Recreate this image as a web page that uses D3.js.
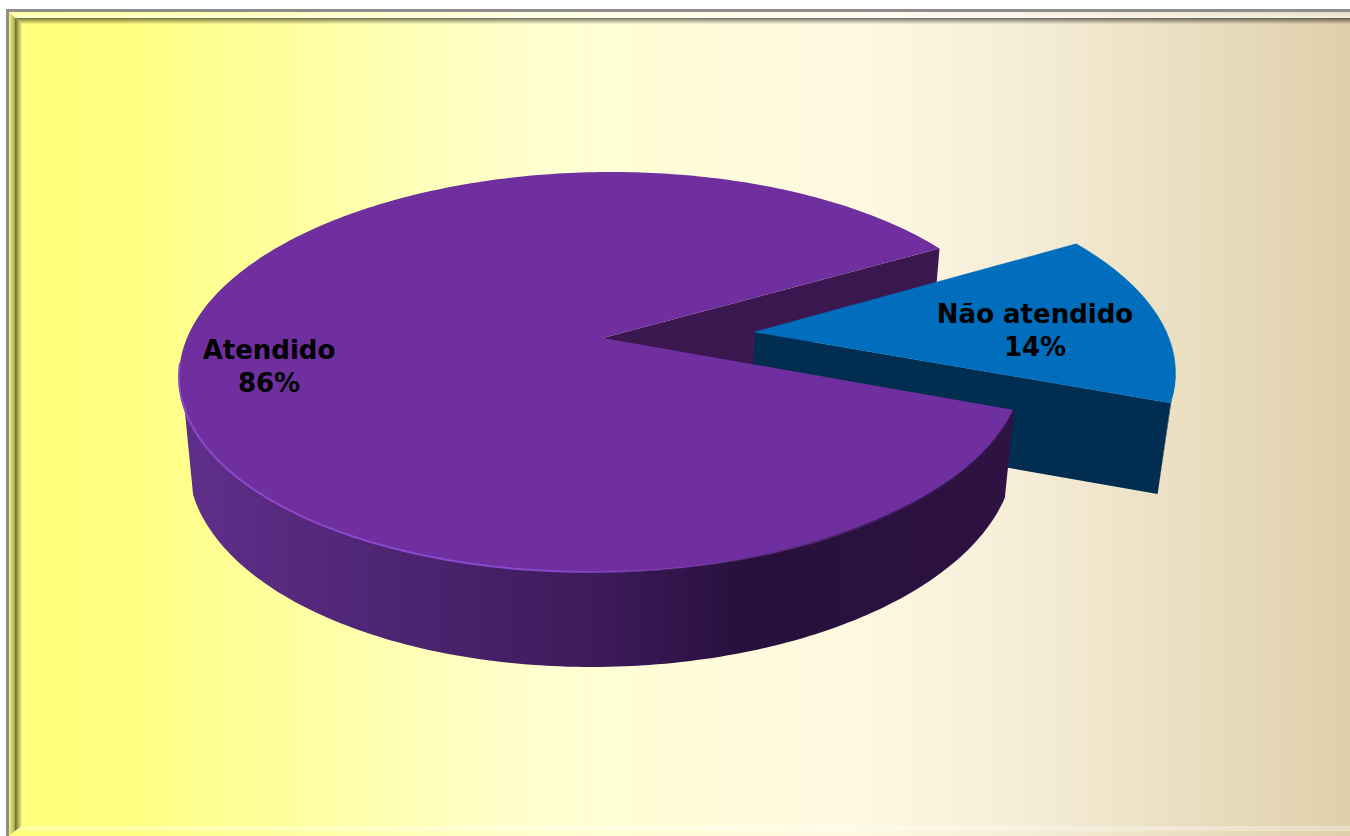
<!DOCTYPE html>
<html>
<head>
<meta charset="utf-8">
<script src="https://cdn.jsdelivr.net/npm/d3@7/dist/d3.min.js"></script>
<style>
	html, body { margin: 0; padding: 0; background: #fff; }
	svg { display: block; }
</style>
</head>
<body>
<script>
var categories = ["Atendido", "Não atendido"];
var values = [86, 14];
var sliceColors = ["#6f2f9f", "#006ebd"];

var WIDTH = 1350, HEIGHT = 836;

// tilted disc: unit circle in the plane -> screen, with some perspective
var APEX = [603, 338];
var RX = 416, RY = 194.2, PERSP = 0.17, SKEW = -0.05;
var EXPLODE = 0.367, SMALL_R = 0.995;
var START = 110.4 * Math.PI / 180;
var LEFT_SWEEP = 2.66; // big slice wall stops at the left edge of the disc

var xScale = d3.scaleLinear().domain([-1, 1]).range([APEX[0] - RX, APEX[0] + RX]);
var yScale = d3.scaleLinear().domain([-1, 1]).range([APEX[1] - RY, APEX[1] + RY]);

var project = function(u, v) {
	var w = 1 - PERSP * v;
	var y = yScale(v / w);
	return [xScale(u / w) + SKEW * (y - APEX[1]), y];
};

// same point on the underside of the disc
var lower = function(p, h) {
	return [APEX[0] + (p[0] - APEX[0]) * (1 - 0.00025 * h), p[1] + h];
};

var rim = function(a, off, r) {
	return project(off[0] + r * Math.sin(a), off[1] - r * Math.cos(a));
};

var arcPoints = function(a0, a1, off, r) {
	var n = Math.max(2, Math.ceil(Math.abs(a1 - a0) * 60));
	return d3.range(n + 1).map(function(i) {
		return rim(a0 + (a1 - a0) * i / n, off, r);
	});
};

var line = d3.line();

var pie = d3.pie().sort(null).startAngle(START).endAngle(START + 2 * Math.PI);
var arcs = pie(values);
var main = arcs[0], small = arcs[1];

var svg = d3.select("body").append("svg").attr("width", WIDTH).attr("height", HEIGHT);
var defs = svg.append("defs");

var addGradient = function(id, attrs, stops) {
	var g = defs.append("linearGradient").attr("id", id);
	Object.keys(attrs).forEach(function(k) { g.attr(k, attrs[k]); });
	stops.forEach(function(s) {
		g.append("stop").attr("offset", s[0]).attr("stop-color", s[1]).attr("stop-opacity", s[2] === undefined ? 1 : s[2]);
	});
};

addGradient("bg", {gradientUnits: "userSpaceOnUse", x1: 0, x2: WIDTH, y1: 0, y2: 0}, [
	[0, "#ffff7c"], [0.09, "#ffff80"], [0.4, "#ffffd0"], [0.63, "#fff9e2"], [0.75, "#f6eed8"], [1, "#dfd0ab"]
]);
addGradient("wall", {gradientUnits: "userSpaceOnUse", x1: 190, x2: 1010, y1: 0, y2: 0}, [
	[0, "#5f2e8a"], [0.25, "#4d2472"], [0.5, "#3d1a5a"], [0.68, "#27103c"], [1, "#2e1242"]
]);
addGradient("rimLight", {gradientUnits: "userSpaceOnUse", x1: 178, x2: 900, y1: 0, y2: 0}, [
	[0, "#8a48cc"], [0.5, "#8a48cc"], [0.7, "#7436a8", 0.6], [1, "#32154a"]
]);
addGradient("lightDown", {x1: 0, x2: 0, y1: 0, y2: 1}, [[0, "#fff", 0.25], [1, "#fff", 0.65]]);
addGradient("darkDown", {x1: 0, x2: 0, y1: 0, y2: 1}, [[0, "#000", 0.55], [1, "#000", 0.02]]);
addGradient("greyRight", {x1: 0, x2: 1, y1: 0, y2: 0}, [[0, "#000", 0.03], [1, "#000", 0.35]]);
addGradient("darkRight", {x1: 0, x2: 1, y1: 0, y2: 0}, [[0, "#000", 0.6], [1, "#000", 0.02]]);

// background and bevelled frame
svg.append("rect").attr("width", WIDTH).attr("height", HEIGHT).attr("fill", "#fff");
svg.append("rect").attr("x", 6).attr("y", 9).attr("width", WIDTH - 6).attr("height", HEIGHT - 9).attr("fill", "url(#bg)");

var frame = svg.append("g").attr("class", "frame");
frame.append("rect").attr("x", 6).attr("y", 9).attr("width", WIDTH).attr("height", 3).attr("fill", "#8d8d8d");
frame.append("rect").attr("x", 6).attr("y", 9).attr("width", 3).attr("height", HEIGHT).attr("fill", "#8d8d8d");
frame.append("path").attr("d", "M9,12H1350V18H15Z").attr("fill", "url(#lightDown)");
frame.append("path").attr("d", "M9,12L15,18V831L9,836Z").attr("fill", "url(#greyRight)");
frame.append("path").attr("d", "M15,18H1350V24H22Z").attr("fill", "url(#darkDown)");
frame.append("path").attr("d", "M15,18L22,24V826L15,831Z").attr("fill", "url(#darkRight)");
frame.append("path").attr("d", "M22,826H1350V831H15Z").attr("fill", "#fff").attr("fill-opacity", 0.3);

var chart = svg.append("g").attr("class", "pie");

// inside cut of the big slice, visible behind the pulled out one
var cutTop = rim(main.endAngle, [0, 0], 1);
chart.append("path")
	.attr("d", line([APEX, cutTop, lower(cutTop, 36), lower(APEX, 100)]) + "Z")
	.attr("fill", "#3a174f");

// pulled out slice
var WALL_H = 91;
var mid = (small.startAngle + small.endAngle) / 2;
var off = [EXPLODE * Math.sin(mid), -EXPLODE * Math.cos(mid)];
var smallApex = project(off[0], off[1]);
var smallEnd = rim(small.endAngle, off, SMALL_R);

chart.append("path")
	.attr("d", line([smallApex, smallEnd, lower(smallEnd, WALL_H), lower(smallApex, WALL_H)]) + "Z")
	.attr("fill", "#002d50");
chart.append("path")
	.attr("d", line(arcPoints(small.endAngle - 0.14, small.endAngle, off, SMALL_R).concat([lower(smallEnd, WALL_H)])) + "Z")
	.attr("fill", "#002d50");
chart.append("path")
	.attr("d", line([smallApex].concat(arcPoints(small.startAngle, small.endAngle, off, SMALL_R))) + "Z")
	.attr("fill", sliceColors[1])
	.attr("stroke", sliceColors[1]).attr("stroke-width", 0.5);

// outer wall of the big slice, from the cut round the front to the left edge
var wallH = d3.scaleLinear().domain([0.36, 1]).range([88, 95]);
var frontArc = arcPoints(main.startAngle, main.startAngle + LEFT_SWEEP, [0, 0], 1);
var bottomArc = frontArc.map(function(p, i) {
	var a = main.startAngle + LEFT_SWEEP * i / (frontArc.length - 1);
	return lower(p, wallH(-Math.cos(a)));
}).slice(0, frontArc.length - 13); // straight silhouette up to the rim on the left
chart.append("path")
	.attr("d", line(frontArc.concat(bottomArc.slice().reverse())) + "Z")
	.attr("fill", "url(#wall)");

// top of the big slice
var mainArc = arcPoints(main.startAngle, main.endAngle, [0, 0], 1);
chart.append("path")
	.attr("d", line([APEX].concat(mainArc)) + "Z")
	.attr("fill", sliceColors[0]);
chart.append("path")
	.attr("d", line(frontArc))
	.attr("fill", "none")
	.attr("stroke", "url(#rimLight)")
	.attr("stroke-width", 2);

// labels
var labelAnchor = [[269, 359], [1035, 323]];
var labels = chart.selectAll("text.label")
	.data(arcs)
	.enter()
	.append("text")
	.attr("class", "label")
	.attr("text-anchor", "middle")
	.style("font-family", '"DejaVu Sans", sans-serif')
	.style("font-weight", "bold")
	.style("font-size", "26px")
	.attr("fill", "#000");
labels.append("tspan")
	.attr("x", function(d, i) { return labelAnchor[i][0]; })
	.attr("y", function(d, i) { return labelAnchor[i][1]; })
	.text(function(d, i) { return categories[i]; });
labels.append("tspan")
	.attr("x", function(d, i) { return labelAnchor[i][0]; })
	.attr("y", function(d, i) { return labelAnchor[i][1] + 33; })
	.text(function(d) { return d.value + "%"; });
</script>
</body>
</html>
